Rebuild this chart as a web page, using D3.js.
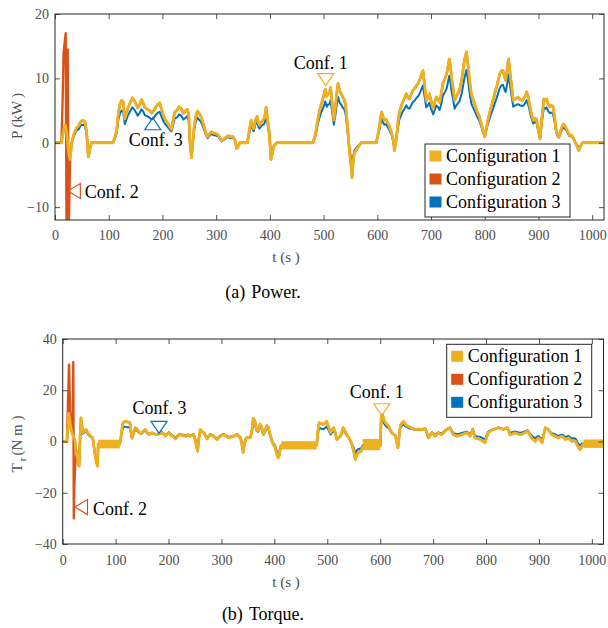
<!DOCTYPE html>
<html>
<head>
<meta charset="utf-8">
<script src="https://cdn.jsdelivr.net/npm/d3@7"></script>
<style>
body { margin: 0; background: #fff; }
.serif { font-family: 'Liberation Serif'; }
</style>
</head>
<body>
<script>
// ---- data ----
var xTicks = [0, 100, 200, 300, 400, 500, 600, 700, 800, 900, 1000]
var xMax = 1022
var powerTicks = [-10, 0, 10, 20]
var torqueTicks = [-40, -20, 0, 20, 40]
var legendLabels = ["Configuration 1", "Configuration 2", "Configuration 3"]

// power, kW
var powerTime = [0,12,16,19,22,25,28,31,36,40, 44,48,52,56,59,62,65,68,108,112,
  115,118,121,124,127,130,133,136,140,144, 148,151,154,158,161,164,167,172,176,180,
  184,188,192,195,199,202,206,211,214,217, 220,223,227,231,235,239,242,246,249,251,
  254,257,259,262,265,268,272,275,278,281, 284,288,291,295,300,304,307,310,315,319,
  323,326,330,335,338,341,344,358,361,365, 368,370,373,376,379,381,384,387,390,393,
  396,399,402,405,407,410,413,480,484,486, 489,492,495,498,501,503,506,508,511,513,
  516,519,522,525,527,530,533,536,538,540, 542,545,548,551,553,555,557,560,564,570,
  598,601,604,606,608,611,613,616,619,623, 627,630,632,635,637,639,641,644,647,650,
  654,657,660,663,666,670,673,676,680,683, 685,688,691,694,697,700,704,707,710,713,
  716,719,722,726,729,732,734,736,738,741, 744,747,750,753,757,760,762,766,769,771,
  773,775,778,781,785,790,794,797,800,803, 806,809,812,816,819,822,825,828,831,834,
  837,839,842,844,846,848,851,853,857,862, 866,871,875,878,881,883,886,890,893,896,
  899,903,906,910,913,915,918,921,924,927, 930,933,936,938,942,946,949,952,955,958,
  961,964,967,970,973,975,978,982,1022]
var powerConf1 = [0,0,2.0,2.8,1.5,-1.5,-2.6,0,1.5,2.3, 2.6,3.3,3.5,3.2,1.5,-2.2,-1.0,0,0,1.0,
  2.0,4.6,6.0,6.6,6.3,3.7,4.5,5.5,6.2,7.0, 6.5,6.0,5.4,6.0,6.7,6.2,5.5,5.2,5.0,4.6,
  5.0,5.6,6.0,6.2,5.0,4.2,3.5,2.9,2.4,2.1, 3.5,4.8,5.0,5.6,5.3,4.6,4.8,5.2,4.4,0.3,
  -2.3,0.5,2.4,4.0,4.9,4.6,4.0,3.2,2.4,1.5, 0.9,1.4,1.7,1.5,1.4,1.2,0.8,0.3,0.6,0.9,
  1.1,0.9,1.0,0.5,-0.9,-0.6,0,0,1.5,3.5, 2.6,2.2,3.5,4.1,3.0,2.7,3.2,3.5,3.8,5.5,
  3.5,1.4,-2.6,-1.5,-0.7,-0.3,0,0,1.0,1.9, 3.5,4.8,5.8,6.6,7.6,8.3,7.2,7.6,7.8,8.6,
  6.0,3.5,5.5,8.0,9.2,8.0,7.6,7.0,6.8,6.2, 5.0,2.0,-1.2,-3.5,-5.4,-3.0,-1.7,-1.2,-0.7,0,
  0,1.2,2.6,3.8,4.8,4.0,3.5,3.6,3.2,2.4, 1.4,0.2,-1.2,0.5,1.9,3.5,4.8,5.5,6.3,6.8,
  7.6,7.0,6.8,7.5,8.1,8.5,8.9,9.2,10.0,10.8, 11.2,9.0,6.6,7.0,7.6,6.5,5.3,6.3,7.1,6.8,
  6.3,7.6,9.2,10.0,10.7,12.0,13.0,12.0,10.2,8.5, 6.6,7.2,7.6,8.2,9.7,11.5,12.8,14.1,12.0,10.2,
  8.8,7.6,6.8,6.1,5.0,4.0,2.8,1.8,0.9,2.3, 3.5,4.6,5.6,6.8,7.8,8.6,9.7,10.7,11.2,11.2,
  10.2,9.7,11.5,13.0,11.8,10.2,8.0,6.6,6.8,7.1, 6.7,6.6,7.2,7.9,7.0,6.1,4.8,3.5,3.8,3.7,
  2.4,0.6,3.5,6.8,6.6,6.8,6.0,5.6,5.8,5.6, 4.0,1.9,1.2,0.9,2.0,2.9,2.6,2.2,1.6,1.1,
  1.2,0.9,0.3,-0.2,-0.8,-1.2,-0.6,0,0]
var powerConf3 = [0,0,1.8,2.4,1.2,-1.0,-1.8,0,1.2,1.9, 2.1,2.7,2.8,2.6,1.2,-1.6,-0.7,0,0,0.8,
  1.6,3.6,4.6,5.0,4.8,2.9,3.6,4.3,4.9,5.5, 5.1,4.7,4.2,4.7,5.2,4.9,4.3,4.1,3.9,3.6,
  3.9,4.4,4.7,4.8,3.9,3.3,2.8,2.3,2.0,1.8, 2.8,3.8,3.9,4.4,4.2,3.6,3.8,4.1,3.5,0.2,
  -1.6,0.4,1.9,3.2,3.9,3.6,3.2,2.6,1.9,1.2, 0.7,1.1,1.4,1.2,1.1,1.0,0.6,0.2,0.5,0.7,
  0.9,0.7,0.8,0.4,-0.6,-0.4,0,0,1.2,2.8, 2.1,1.8,2.8,3.3,2.4,2.2,2.6,2.8,3.0,4.4,
  2.8,1.1,-1.8,-1.0,-0.5,-0.2,0,0,0.8,1.5, 2.8,3.8,4.6,5.2,5.8,6.4,5.6,5.9,6.0,6.6,
  4.7,2.8,4.3,6.2,7.1,6.2,5.9,5.4,5.3,4.8, 3.9,1.5,-0.8,-2.4,-3.6,-2.2,-1.3,-0.9,-0.5,0,
  0,1.0,2.0,3.0,3.8,3.1,2.8,2.9,2.5,1.9, 1.1,0.1,-0.8,0.4,1.5,2.6,3.6,4.2,4.8,5.2,
  5.8,5.4,5.3,5.8,6.3,6.6,7.0,7.2,7.9,8.5, 8.9,7.2,5.5,5.8,6.2,5.3,4.4,5.1,5.8,5.5,
  5.1,6.0,7.3,7.9,8.4,9.6,10.4,9.6,8.1,6.8, 5.3,5.8,6.1,6.5,7.6,9.0,10.0,11.3,9.6,8.2,
  7.1,6.1,5.5,5.0,4.2,3.4,2.4,1.6,0.9,2.0, 2.9,3.7,4.5,5.4,6.2,6.9,7.7,8.5,8.9,9.0,
  8.2,7.9,9.3,10.6,9.6,8.4,6.7,5.6,5.8,6.0, 5.8,5.7,6.1,6.6,5.9,5.2,4.1,3.0,3.2,3.2,
  2.0,0.6,3.0,5.4,5.3,5.5,4.9,4.6,4.7,4.5, 3.3,1.6,1.0,0.8,1.7,2.4,2.2,1.9,1.4,1.0,
  1.0,0.8,0.3,-0.1,-0.5,-0.8,-0.5,0,0]
// configuration 2 only departs from configuration 1 during the start-up spike
var powerConf2Time = [0,12,14,16,19.9,21.5,23.6,25.5,28,31]
var powerConf2 = [0,0,6,14,17,-14,14.5,-14,-2.6,0]

// torque, Nm
var torqueTime = [0,8,10,11,13,14,16,18,21,23, 25,27.6,29,31,33,34.6,36,38,41,44,
  47,50,53,56.7,59,61,63.5,66,67,108, 111,113,115,118,121,124,127,129,131,134,
  137,140,143,147,150,153,156,160,163,166, 169,173,178,183,188,191,194,197,201,204,
  207,210,213,217,222,227,232,237,241,244, 247,250,252,255,257,260,263,267,270,273,
  276,279,282,285,288,292,295,298,301,304, 308,314,318,323,327,330,333,336,339,341,
  344,347,351,355,358,360,363,366,369,373, 376,379,382,386,389,392,395,398,401,404,
  407,409,411,413,480,482,484.6,489,492.7,496, 499,502,506,509,512,515,518,521,525,528,
  530,533,537,541,544,547,550,553,555.5,558, 561,564,567,600,602,604.5,607,609.7,613,616,
  619,622,626,629,631,633.5,636,638,641,644, 647,651,654,657,662,666.5,672,679,685,688,
  691,694,698,701,704,707,710,713,716,720, 726,732,735,738,742,745,750,754,758,764,
  767,770,773,775,777,779,784,789,794,798, 801,804,809,814,819,823,828,833,837,840,
  843,845,850,855,860,864,869,873,879,882, 886,890,893,896,899,903,906,909,912,915,
  918,921,924,928,931,934,937,940,943,947, 950,953,956,959,962,966,969,972,975,978,
  981,983,984,1022]
var torqueConf1 = [0,0,6,11,9,7.4,5,3,1.5,0.8, -3,-5.7,-8.5,-9.6,2,9.2,7,3.5,4,4.7,
  3.5,2.7,2.0,1.5,-2,-5,-8,-9.6,-1,-1, 3,6.5,7.5,7.8,7.7,7.6,7.4,4,1.4,3.5,
  5.4,5.0,4.1,3.2,3.4,4.2,4.7,3.4,2.7,3.2, 3.4,3.0,2.7,3.0,3.4,2.8,2.1,2.8,3.4,2.6,
  2.1,1.6,1.0,2.0,2.7,2.4,2.1,2.5,2.1,2.4, 2.7,1.0,-1.2,-3.8,0.5,4.7,4.0,3.4,2.2,1.0,
  2.0,2.7,2.4,2.1,1.4,0.8,1.5,2.1,2.5,2.7, 2.2,1.4,1.8,2.1,2.5,2.7,2.0,1.4,-1.5,-4.3,
  -0.5,1.4,1.4,1.6,5,9.0,8.2,5.0,4.0,6.8, 5.8,2.7,4.0,6.2,5.3,2.7,0.5,-1.2,-1.8,-4.5,
  -6.4,-5.5,-3,-1.5,-1.5,3.5,7.3,7.0,6.6,7.2, 7.9,6.0,3.4,4.4,5.4,3.5,0.8,1.5,2.1,4.0,
  5.4,4.2,2.7,1.4,0.1,-1.5,-3.8,-7.0,-5.5,-4.4, -4.0,-3.8,-2,-1.5,9.9,10.5,8.5,7.3,6.6,6.0,
  4.6,3.4,2.7,2.1,0,-2.5,2.5,6.0,7.2,7.9, 6.8,6.0,5.8,5.4,5.0,4.7,4.8,4.7,5.0,3.5,
  1.4,2.2,3.4,2.8,2.1,2.8,3.4,3.0,2.7,3.5, 4.7,5.4,4.0,2.7,2.4,2.1,2.4,2.7,3.0,3.4,
  2.8,2.1,3.5,4.7,3.0,1.4,1.1,0.8,0.2,-0.5, 1.5,3.4,4.2,4.7,5.0,5.4,5.0,4.7,5.0,5.4,
  4.0,2.7,3.0,3.4,3.0,2.7,3.0,3.4,4.1,2.8, 1.4,0.6,0.1,0.8,1.4,0.5,-0.5,2.5,5.4,5.0,
  4.7,3.6,2.7,2.4,2.1,1.7,1.4,1.8,2.1,1.5, 0.8,1.1,1.4,0.8,0.1,0.3,0.1,-1.2,-2.5,-3.1,
  -2.0,-1.2,-1.2,-1.2]
var torqueConf3 = [0,0,5,8,7,6,4.5,3,1.5,0.8, -2.5,-5,-7.5,-8,2,7.5,6,3,3.5,4,
  3,2.3,1.7,1.3,-1.8,-4.5,-7,-8.5,-1,-1, 2.5,5,5.5,5.8,5.6,5.6,5.5,3,1.2,3,
  4.6,4.3,3.7,3,3.2,3.9,4.3,3.2,2.7,3.0, 3.3,3.0,2.8,3.1,3.6,3.0,2.5,3.0,3.6,2.9,
  2.4,2.0,1.5,2.3,3.0,2.6,2.4,2.7,2.4,2.6, 2.9,1.2,-0.8,-3.0,0.8,4.2,3.8,3.3,2.3,1.3,
  2.2,2.8,2.6,2.3,1.7,1.2,1.8,2.3,2.7,2.9, 2.4,1.7,2.0,2.3,2.6,2.8,2.2,1.7,-1.0,-3.5,
  0,1.5,1.5,1.6,4.2,7.5,7,4.5,3.7,5.8, 5.0,2.5,3.6,5.4,4.7,2.5,0.6,-0.8,-1.3,-3.5,
  -5.0,-4.5,-2.5,-1.5,-1.5,2.8,5.3,5.0,4.8,5.3, 5.8,4.6,2.7,3.5,4.3,2.9,1.0,1.5,2.0,3.5,
  4.6,3.6,2.4,1.4,0.3,-1.0,-2.5,-4.5,-3.6,-3.0, -2.8,-2.6,-1.5,-1.5,8,8.5,7.2,6.2,5.7,5.2,
  4.2,3.2,2.7,2.2,0.5,-1.5,2.5,5.2,6.2,6.8, 6.0,5.5,5.2,5.0,4.8,4.5,4.6,4.7,5.0,3.7,
  2.0,2.6,3.6,3.1,2.6,3.1,3.6,3.3,3.1,3.8, 4.9,5.4,4.3,3.3,3.0,2.8,3.0,3.3,3.5,3.8,
  3.3,2.8,4.0,5.0,3.5,2.2,2.0,1.8,1.2,0.8, 2.3,3.8,4.4,4.8,5.1,5.4,5.1,4.9,5.1,5.4,
  4.3,3.3,3.6,3.9,3.6,3.4,3.6,3.9,4.4,3.4, 2.3,1.6,1.3,1.8,2.1,1.4,0.8,3.0,5.2,4.9,
  4.7,3.8,3.2,3.0,2.8,2.4,2.2,2.5,2.7,2.2, 1.7,2.0,2.2,1.6,1.2,1.3,1.2,0,-1.0,-1.5,
  -0.8,-0.8,-1.2,-1.2]
var torqueConf2Time = [0,8,12,14,16,19,20,21,22,24,26]
var torqueConf2 = [0,0,30,12,8,5,31,-30,-17,-8,-5]
// stretches where the torque chatters too fast to resolve (drawn as a solid band)
var chatterStart = [67, 413, 567, 984]
var chatterEnd = [108, 480, 600, 1022]
var chatterLow = [-2.7, -3.1, -3.4, -2.5]
var chatterHigh = [0.7, 0.1, 1.0, 0.8]

// annotation markers: configuration 1, 3, 2
var powerMarkTime = [504, 182, 36]
var powerMarkValue = [9.8, 2.95, -7.5]
var torqueMarkTime = [603, 182, 35.5]
var torqueMarkValue = [12.4, 5.5, -25.6]

// ---- drawing ----
var colors = ["#EDB120", "#D95319", "#0072BD"]
var tickColor = "#4d4d4d"
var axisColor = "#262626"

var svg = d3.select("body").append("svg")
  .attr("width", 608)
  .attr("height", 628)

function toPoints(ts, vs) {
  return ts.map(function(t, i) { return {t: t, v: vs[i]} })
}
function withSpike(spikeT, spikeV, baseT, baseV) {
  var spike = toPoints(spikeT, spikeV)
  var last = spikeT[spikeT.length - 1]
  return spike.concat(toPoints(baseT, baseV).filter(function(d) { return d.t > last }))
}
// text helper: serif face set the same way on every label
function txt(sel, size) {
  return sel.append("text")
    .attr("class", "serif")
    .attr("font-family", "Liberation Serif")
    .attr("font-size", size)
}

var shapes = {
  down: "M-8,-6L8,-6L0,6Z",
  up: "M-8,6L8,6L0,-6Z",
  left: "M6,-7.5L6,7.5L-6.5,0Z"
}

function drawPanel(p) {
  var x = d3.scaleLinear().domain([0, xMax]).range([p.left, p.right])
  var y = d3.scaleLinear().domain(p.yDomain).range([p.bottom, p.top])
  var g = svg.append("g")

  g.append("clipPath").attr("id", "clip-" + p.name)
    .append("rect")
    .attr("x", p.left).attr("y", p.top)
    .attr("width", p.right - p.left).attr("height", p.bottom - p.top)

  var line = d3.line().x(function(d) { return x(d.t) }).y(function(d) { return y(d.v) })
  var plot = g.append("g").attr("clip-path", "url(#clip-" + p.name + ")")

  // blue under, then the spike, yellow on top
  var order = [[p.conf3, 2, 2.0], [p.conf2, 1, 2.4], [p.conf1, 0, 2.8]]
  order.forEach(function(o) {
    plot.append("path")
      .datum(o[0])
      .attr("d", line)
      .attr("fill", "none")
      .attr("stroke", colors[o[1]])
      .attr("stroke-width", o[2])
      .attr("stroke-linejoin", "round")
  })

  if (p.bands) {
    plot.selectAll(".band")
      .data(p.bands)
      .enter()
      .append("rect")
      .attr("x", function(d) { return x(d.start) })
      .attr("width", function(d) { return x(d.end) - x(d.start) })
      .attr("y", function(d) { return y(d.high) })
      .attr("height", function(d) { return y(d.low) - y(d.high) })
      .attr("fill", colors[0])
  }

  // axes, MATLAB-like inward ticks on all four sides
  var axes = [
    g.append("g").attr("transform", "translate(0," + p.bottom + ")")
      .call(d3.axisBottom(x).tickValues(xTicks).tickFormat(d3.format("d"))
        .tickSizeInner(-5).tickSizeOuter(0).tickPadding(p.xPad)),
    g.append("g").attr("transform", "translate(" + p.left + ",0)")
      .call(d3.axisLeft(y).tickValues(p.yTicks).tickFormat(d3.format("d"))
        .tickSizeInner(-5).tickSizeOuter(0).tickPadding(6)),
    g.append("g").attr("transform", "translate(0," + p.top + ")")
      .call(d3.axisTop(x).tickValues(xTicks).tickSizeInner(-5).tickSizeOuter(0).tickFormat("")),
    g.append("g").attr("transform", "translate(" + p.right + ",0)")
      .call(d3.axisRight(y).tickValues(p.yTicks).tickSizeInner(-5).tickSizeOuter(0).tickFormat(""))
  ]
  axes.forEach(function(a) {
    a.attr("font-family", "Liberation Serif").attr("font-size", 14).attr("class", "serif")
    a.select(".domain").remove()
    a.selectAll(".tick line").attr("stroke", axisColor).attr("stroke-width", 0.8)
    a.selectAll(".tick text").attr("fill", tickColor).attr("class", "serif")
  })

  g.append("rect")
    .attr("x", p.left).attr("y", p.top)
    .attr("width", p.right - p.left).attr("height", p.bottom - p.top)
    .attr("fill", "none")
    .attr("stroke", axisColor)
    .attr("stroke-width", 1)

  // x label
  txt(g, 15)
    .attr("x", 286).attr("y", p.xLabelY)
    .attr("text-anchor", "middle")
    .attr("fill", tickColor)
    .text("t (s )")

  // y label
  var yl = txt(g, 15)
    .attr("transform", "translate(22," + p.yLabelY + ") rotate(-90)")
    .attr("text-anchor", "middle")
    .attr("fill", tickColor)
  p.yLabel(yl)

  // caption: "(a)" then a wide gap then the title
  var cap = txt(g, 18)
    .attr("x", 263).attr("y", p.captionY)
    .attr("text-anchor", "middle")
    .attr("fill", "#000")
  cap.append("tspan").text(p.caption[0])
  cap.append("tspan").attr("dx", 6).text(p.caption[1])

  // annotation triangles + labels
  p.marks.forEach(function(m) {
    var cx = x(m.t), cy = y(m.v)
    g.append("path")
      .attr("transform", "translate(" + cx + "," + cy + ")")
      .attr("d", shapes[m.shape])
      .attr("fill", "none")
      .attr("stroke", colors[m.series])
      .attr("stroke-width", 1.2)
    txt(g, 18)
      .attr("x", cx + m.dx).attr("y", cy + m.dy)
      .attr("text-anchor", m.anchor)
      .attr("fill", "#000")
      .text(m.label)
  })

  // legend
  var lg = g.append("g").attr("transform", "translate(" + p.legend[0] + "," + p.legend[1] + ")")
  lg.append("rect")
    .attr("width", 145).attr("height", 73)
    .attr("fill", "#fff")
    .attr("stroke", axisColor)
    .attr("stroke-width", 1)
  legendLabels.forEach(function(lab, i) {
    var cy = 12 + i * 23
    lg.append("rect")
      .attr("x", 4.5).attr("y", cy - 5.5)
      .attr("width", 12).attr("height", 11)
      .attr("fill", colors[i])
    txt(lg, 18)
      .attr("x", 21).attr("y", cy + 6)
      .attr("fill", "#000")
      .text(lab)
  })
}

var bands = chatterStart.map(function(s, i) {
  return {start: s, end: chatterEnd[i], low: chatterLow[i], high: chatterHigh[i]}
})

drawPanel({
  name: "power",
  left: 55, right: 604, top: 14, bottom: 220,
  yDomain: [-12, 20], yTicks: powerTicks,
  xPad: 10, xLabelY: 262, yLabelY: 116, captionY: 298,
  caption: ["(a)", "Power."],
  yLabel: function(t) {
    t.append("tspan").text("P (kW")
    t.append("tspan").attr("dx", 3).text(")")
  },
  conf1: toPoints(powerTime, powerConf1),
  conf2: withSpike(powerConf2Time, powerConf2, powerTime, powerConf1),
  conf3: toPoints(powerTime, powerConf3),
  legend: [425, 144],
  marks: [
    {t: powerMarkTime[0], v: powerMarkValue[0], shape: "down", series: 0, label: "Conf. 1", dx: -5, dy: -10.5, anchor: "middle"},
    {t: powerMarkTime[1], v: powerMarkValue[1], shape: "up", series: 2, label: "Conf. 3", dx: 3, dy: 22.5, anchor: "middle"},
    {t: powerMarkTime[2], v: powerMarkValue[2], shape: "left", series: 1, label: "Conf. 2", dx: 10.5, dy: 6.5, anchor: "start"}
  ]
})

drawPanel({
  name: "torque",
  left: 62.7, right: 603.5, top: 339, bottom: 544,
  yDomain: [-40, 40], yTicks: torqueTicks,
  xPad: 11, xLabelY: 587, yLabelY: 444, captionY: 620,
  caption: ["(b)", "Torque."],
  yLabel: function(t) {
    t.append("tspan").text("T")
    t.append("tspan").attr("dx", 2).attr("dy", 4).attr("font-size", 11).text("r")
    t.append("tspan").attr("dx", 2).attr("dy", -4).text("(N m )")
  },
  conf1: toPoints(torqueTime, torqueConf1),
  conf2: withSpike(torqueConf2Time, torqueConf2, torqueTime, torqueConf1),
  conf3: toPoints(torqueTime, torqueConf3),
  bands: bands,
  legend: [446.7, 344.3],
  marks: [
    {t: torqueMarkTime[0], v: torqueMarkValue[0], shape: "down", series: 0, label: "Conf. 1", dx: -5, dy: -12, anchor: "middle"},
    {t: torqueMarkTime[1], v: torqueMarkValue[1], shape: "down", series: 2, label: "Conf. 3", dx: 0.5, dy: -13, anchor: "middle"},
    {t: torqueMarkTime[2], v: torqueMarkValue[2], shape: "left", series: 1, label: "Conf. 2", dx: 11.5, dy: 7.5, anchor: "start"}
  ]
})
</script>
</body>
</html>
